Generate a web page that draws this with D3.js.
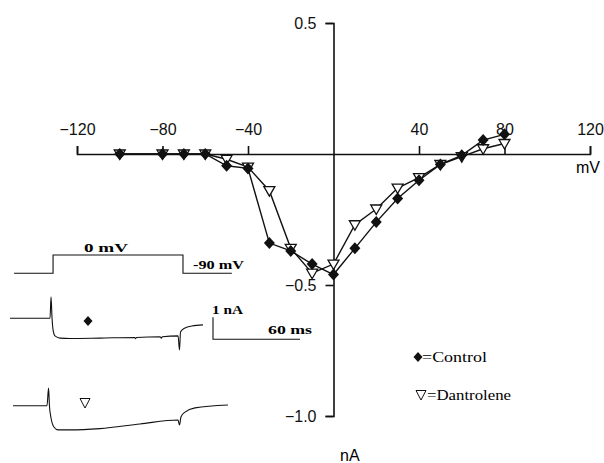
<!DOCTYPE html>
<html>
<head>
<meta charset="utf-8">
<script src="https://cdn.jsdelivr.net/npm/d3@7"></script>
<style>
  body { margin: 0; background: #fff; }
  svg { display: block; }
</style>
</head>
<body>
<svg id="chart" width="604" height="463"></svg>
<script>
// I-V data (mV, nA)
var voltages    = [-100, -80, -70, -60, -50, -40, -30, -20, -10, 0, 10, 20, 30, 40, 50, 60, 70, 80];
var controlI    = [0, 0, 0, 0, -0.045, -0.055, -0.34, -0.37, -0.42, -0.46, -0.36, -0.26, -0.17, -0.10, -0.04, -0.005, 0.053, 0.075];
var dantroleneI = [0, 0, 0, 0, -0.02, -0.05, -0.14, -0.36, -0.455, -0.42, -0.27, -0.21, -0.13, -0.09, -0.04, -0.01, 0.02, 0.04];
var xTicks = [-120, -80, -40, 40, 80, 120];
var yTicks = [0.5, -0.5, -1.0];

// inset traces (ms, nA / mV)
var stepT = [2.8, 29.7, 29.7, 119.3, 119.3, 153];
var stepV = [-90, -90, 0, 0, -90, -90];
var ctrlT = [0, 27.6, 28.3, 29, 29.7, 31, 34.5, 41.4, 62, 86, 86.6, 87.2, 103.4, 104.4, 105, 115.9, 116.9, 117.6, 120.7, 125.5, 133.1];
var ctrlI = [0, 0, 0.98, 0, -0.53, -0.8, -0.9, -0.92, -0.9, -0.87, -0.93, -0.87, -0.84, -0.9, -0.84, -0.8, -1.44, -0.62, -0.44, -0.35, -0.3];
var dantT = [2.1, 25.5, 26.6, 27.2, 28.3, 30.3, 33.1, 41.4, 62, 89.7, 115.9, 116.9, 117.9, 120.7, 127.6, 150.3];
var dantI = [0, 0, 0.8, 0, -0.56, -0.97, -1.1, -1.1, -1.04, -0.83, -0.65, -0.88, -0.51, -0.29, -0.1, 0.03];

var svg = d3.select("#chart");

var x = d3.scaleLinear().domain([-120, 120]).range([77, 590]);
var y = d3.scaleLinear().domain([-1, 0.5]).range([416, 23]);

// x axis (through y=0, ticks up)
var xAxis = svg.append("g")
    .attr("transform", "translate(0," + y(0) + ")")
    .call(d3.axisTop(x).tickValues(xTicks).tickSize(8).tickPadding(11).tickFormat(d3.format("d")));

// y axis (through x=0, ticks left)
var yAxis = svg.append("g")
    .attr("transform", "translate(" + x(0) + ",0)")
    .call(d3.axisLeft(y).tickValues(yTicks).tickSize(8).tickPadding(9).tickFormat(d3.format(".1f")));

svg.selectAll(".tick text")
    .style("font-family", "'Liberation Sans', Arial, sans-serif")
    .style("font-size", "16px")
    .attr("fill", "#111");
svg.selectAll(".domain, .tick line")
    .attr("stroke", "#111")
    .attr("stroke-width", 1.6);

svg.append("text").attr("x", 576).attr("y", 173)
    .style("font-family", "'Liberation Sans', Arial, sans-serif").style("font-size", "16px")
    .text("mV");
svg.append("text").attr("x", 340).attr("y", 461)
    .style("font-family", "'Liberation Sans', Arial, sans-serif").style("font-size", "16px")
    .text("nA");

var ctrlData = voltages.map(function(v, i) { return [v, controlI[i]]; });
var dantData = voltages.map(function(v, i) { return [v, dantroleneI[i]]; });

var line = d3.line()
    .x(function(d) { return x(d[0]); })
    .y(function(d) { return y(d[1]); });

svg.append("path").datum(dantData)
    .attr("d", line).attr("fill", "none").attr("stroke", "#111").attr("stroke-width", 1.4);
svg.append("path").datum(ctrlData)
    .attr("d", line).attr("fill", "none").attr("stroke", "#111").attr("stroke-width", 1.4);

var diamond = "M0,-6L5.5,0L0,6L-5.5,0Z";
var triDown = "M-5.5,-4L5.5,-4L0,5.5Z";

svg.selectAll(".tri").data(dantData).join("path")
    .attr("class", "tri")
    .attr("transform", function(d) { return "translate(" + x(d[0]) + "," + y(d[1]) + ")"; })
    .attr("d", triDown).attr("fill", "#fff").attr("stroke", "#111").attr("stroke-width", 1.3);

svg.selectAll(".dia").data(ctrlData).join("path")
    .attr("class", "dia")
    .attr("transform", function(d) { return "translate(" + x(d[0]) + "," + y(d[1]) + ")"; })
    .attr("d", diamond).attr("fill", "#111");

// legend
svg.append("path").attr("transform", "translate(418,357)").attr("d", "M0,-5L4.5,0L0,5L-4.5,0Z").attr("fill", "#111");
svg.append("text").attr("x", 422).attr("y", 362).attr("textLength", 65).attr("lengthAdjust", "spacingAndGlyphs")
    .style("font-family", "'Liberation Serif', 'Times New Roman', serif").style("font-size", "15px")
    .text("=Control");
svg.append("path").attr("transform", "translate(421,395)").attr("d", "M-5,-4.5L5,-4.5L0,5Z")
    .attr("fill", "none").attr("stroke", "#111").attr("stroke-width", 1);
svg.append("text").attr("x", 427).attr("y", 400).attr("textLength", 84).attr("lengthAdjust", "spacingAndGlyphs")
    .style("font-family", "'Liberation Serif', 'Times New Roman', serif").style("font-size", "15px")
    .text("=Dantrolene");

// inset traces
var tX = d3.scaleLinear().domain([0, 60]).range([10, 97]);
var vY = d3.scaleLinear().domain([-90, 0]).range([273.3, 255]);
var cY = d3.scaleLinear().domain([0, 1]).range([318.3, 296.3]);
var dY = d3.scaleLinear().domain([0, 1]).range([405.7, 383.7]);

function trace(ts, vs, ys, curve) {
    return d3.line()
        .curve(curve || d3.curveLinear)
        .x(function(d) { return tX(d[0]); })
        .y(function(d) { return ys(d[1]); })(ts.map(function(t, i) { return [t, vs[i]]; }));
}

svg.append("path").attr("d", trace(stepT, stepV, vY))
    .attr("fill", "none").attr("stroke", "#111").attr("stroke-width", 1.1);
svg.append("path").attr("d", trace(ctrlT, ctrlI, cY, d3.curveMonotoneX))
    .attr("fill", "none").attr("stroke", "#111").attr("stroke-width", 1.1);
svg.append("path").attr("d", trace(dantT, dantI, dY, d3.curveMonotoneX))
    .attr("fill", "none").attr("stroke", "#111").attr("stroke-width", 1.1);

svg.append("path").attr("transform", "translate(88,321)").attr("d", "M0,-5L4.5,0L0,5L-4.5,0Z").attr("fill", "#111");
svg.append("path").attr("transform", "translate(85,403)").attr("d", "M-5,-4.5L5,-4.5L0,5Z")
    .attr("fill", "none").attr("stroke", "#111").attr("stroke-width", 1);

// scale bar: 1 nA / 60 ms
var sbX = 213, sbY = 339.3;
svg.append("path")
    .attr("d", "M" + sbX + "," + (sbY - (cY(0) - cY(1))) + "V" + sbY + "H" + (sbX + tX(60) - tX(0)))
    .attr("fill", "none").attr("stroke", "#111").attr("stroke-width", 1.1);

var serifBold = function(sel) {
    return sel.style("font-family", "'Liberation Serif', 'Times New Roman', serif")
        .style("font-size", "13px").style("font-weight", "bold").attr("lengthAdjust", "spacingAndGlyphs");
};
serifBold(svg.append("text").attr("x", 84).attr("y", 252).attr("textLength", 44).text("0 mV"));
serifBold(svg.append("text").attr("x", 193).attr("y", 269).attr("textLength", 51).text("-90 mV"));
serifBold(svg.append("text").attr("x", 212).attr("y", 313.5).attr("textLength", 31).text("1 nA"));
serifBold(svg.append("text").attr("x", 268).attr("y", 334).attr("textLength", 44).text("60 ms"));
</script>
</body>
</html>
